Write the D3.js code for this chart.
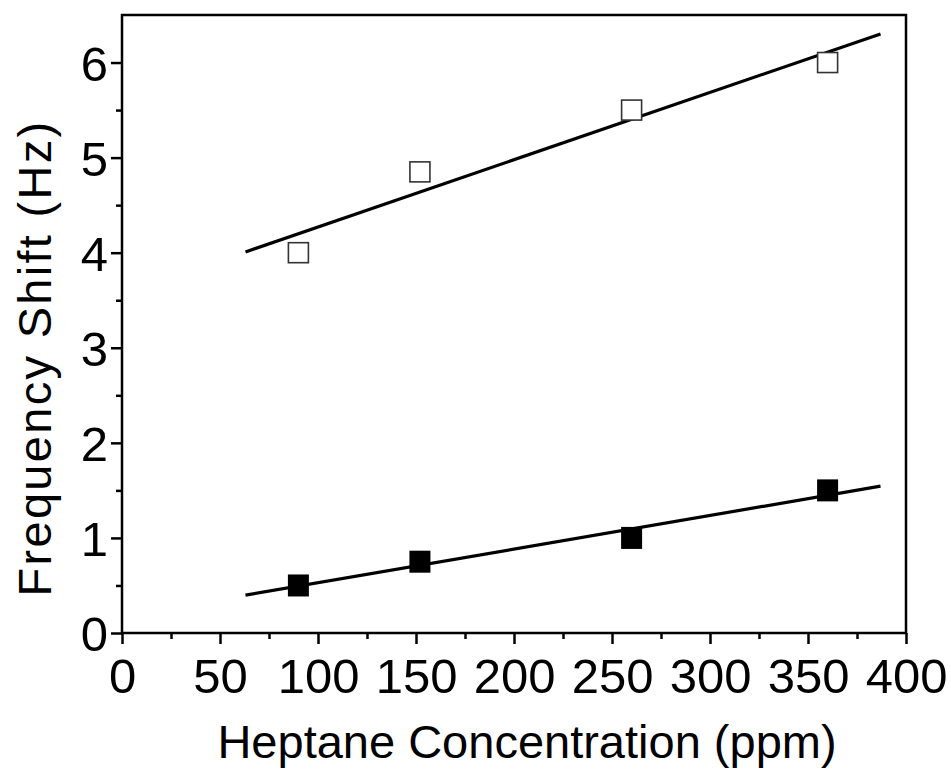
<!DOCTYPE html>
<html>
<head>
<meta charset="utf-8">
<script src="https://cdn.jsdelivr.net/npm/d3@7"></script>
<style>
  html, body { margin: 0; padding: 0; background: #fff; }
  svg { display: block; }
  text { font-family: "Liberation Sans", Arial, sans-serif; fill: #000; }
</style>
</head>
<body>
<svg id="chart" width="951" height="769"></svg>
<script>
// Heptane concentration (ppm) for each measurement
const concentration = [90, 152, 260, 360];
// Frequency shift (Hz), open-square series
const shiftOpen = [4.0, 4.85, 5.5, 6.0];
// Frequency shift (Hz), filled-square series
const shiftFilled = [0.5, 0.75, 1.0, 1.5];
// Range over which the fitted lines are drawn
const fitRange = [63, 387];
const xTickValues = [0, 50, 100, 150, 200, 250, 300, 350, 400];
const yTickValues = [0, 1, 2, 3, 4, 5, 6];
const xTitle = "Heptane Concentration (ppm)";
const yTitle = "Frequency Shift (Hz)";

const svg = d3.select("#chart");
const plot = { left: 122, right: 906, top: 15, bottom: 633 };

const x = d3.scaleLinear().domain([0, 400]).range([plot.left, plot.right]);
const y = d3.scaleLinear().domain([0, 6.5]).range([plot.bottom, plot.top]);

// Least-squares line through a series
function fit(xs, ys) {
  const mx = d3.mean(xs), my = d3.mean(ys);
  let sxy = 0, sxx = 0;
  xs.forEach((v, i) => { sxy += (v - mx) * (ys[i] - my); sxx += (v - mx) * (v - mx); });
  const b = sxy / sxx, a = my - b * mx;
  return v => a + b * v;
}

// Frame
svg.append("rect")
  .attr("x", plot.left).attr("y", plot.top)
  .attr("width", plot.right - plot.left).attr("height", plot.bottom - plot.top)
  .attr("fill", "none").attr("stroke", "#000").attr("stroke-width", 2.5);

// X axis: major ticks with labels, minor ticks between
const xAxis = svg.append("g").attr("transform", `translate(0,${plot.bottom})`)
  .call(d3.axisBottom(x).tickValues(xTickValues).tickSize(11).tickPadding(0).tickFormat(d3.format("d")));
xAxis.select(".domain").remove();
xAxis.selectAll(".tick line").attr("stroke-width", 2.5);
xAxis.selectAll(".tick text")
  .attr("y", 60).attr("dy", 0)
  .style("font-size", "49px");
const xMinor = svg.append("g").attr("transform", `translate(0,${plot.bottom})`)
  .call(d3.axisBottom(x).tickValues(d3.range(25, 400, 50)).tickSize(6).tickFormat(""));
xMinor.select(".domain").remove();
xMinor.selectAll(".tick line").attr("stroke-width", 2.5);

// Y axis
const yAxis = svg.append("g").attr("transform", `translate(${plot.left},0)`)
  .call(d3.axisLeft(y).tickValues(yTickValues).tickSize(11).tickPadding(3).tickFormat(d3.format("d")));
yAxis.select(".domain").remove();
yAxis.selectAll(".tick line").attr("stroke-width", 2.5);
yAxis.selectAll(".tick text")
  .attr("dy", "0.36em")
  .style("font-size", "49px");
const yMinor = svg.append("g").attr("transform", `translate(${plot.left},0)`)
  .call(d3.axisLeft(y).tickValues(d3.range(0.5, 6.5, 1)).tickSize(6).tickFormat(""));
yMinor.select(".domain").remove();
yMinor.selectAll(".tick line").attr("stroke-width", 2.5);

// Axis titles
svg.append("text")
  .attr("x", 527).attr("y", 758)
  .attr("text-anchor", "middle")
  .style("font-size", "47px")
  .text(xTitle);
svg.append("text")
  .attr("transform", "translate(51,358) rotate(-90)")
  .attr("text-anchor", "middle")
  .style("font-size", "47px")
  .style("letter-spacing", "2.3px")
  .text(yTitle);

// Fitted lines
const line = d3.line().x(d => x(d[0])).y(d => y(d[1]));
[shiftOpen, shiftFilled].forEach(series => {
  const f = fit(concentration, series);
  svg.append("path")
    .attr("d", line(fitRange.map(v => [v, f(v)])))
    .attr("fill", "none").attr("stroke", "#000").attr("stroke-width", 3.2);
});

// Open squares
svg.append("g").selectAll("rect")
  .data(concentration.map((c, i) => [c, shiftOpen[i]]))
  .join("rect")
  .attr("x", d => x(d[0]) - 10).attr("y", d => y(d[1]) - 10)
  .attr("width", 20).attr("height", 20)
  .attr("fill", "#fff").attr("stroke", "#333").attr("stroke-width", 1.6);

// Filled squares
svg.append("g").selectAll("rect")
  .data(concentration.map((c, i) => [c, shiftFilled[i]]))
  .join("rect")
  .attr("x", d => x(d[0]) - 10.5).attr("y", d => y(d[1]) - 11)
  .attr("width", 21).attr("height", 22)
  .attr("fill", "#000");
</script>
</body>
</html>
